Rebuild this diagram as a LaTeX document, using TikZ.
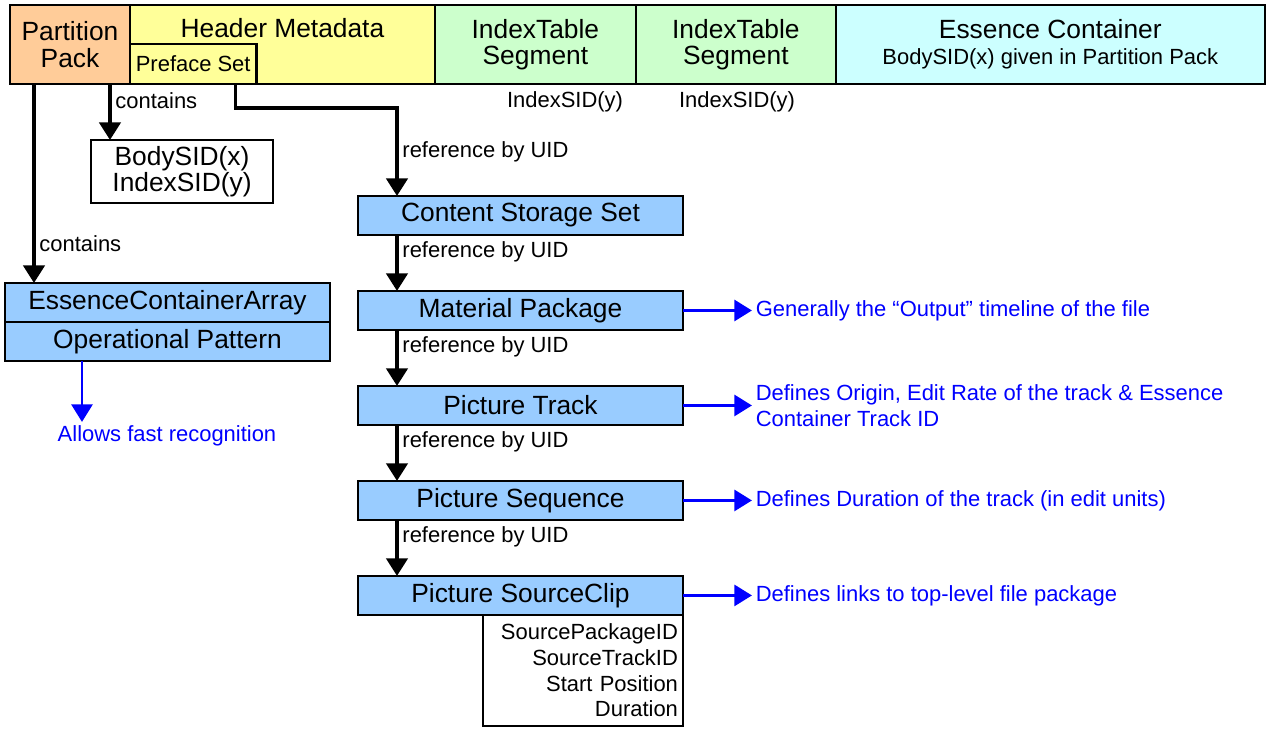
\documentclass[tikz,border=0pt]{standalone}
\usepackage{fontspec}
\setmainfont{Liberation Sans}
\usetikzlibrary{arrows.meta,positioning}
\definecolor{packorange}{RGB}{255,204,153}
\definecolor{metayellow}{RGB}{255,255,153}
\definecolor{indexgreen}{RGB}{204,255,204}
\definecolor{essencecyan}{RGB}{204,255,255}
\definecolor{setblue}{RGB}{153,204,255}
\newcommand{\bigtxt}{\fontsize{15}{15}\selectfont}
\newcommand{\smalltxt}{\fontsize{12.5}{14.6}\selectfont}
\tikzset{
    %Define standard arrow tip
    >={Triangle[length=10pt,width=12pt]},
    %Define style for boxes
    part/.style={
           rectangle,
           draw=black, line width=1.4pt,
           outer sep=0pt,
           minimum height=1.58cm,
           font=\bigtxt,
           align=center},
    setbox/.style={
           rectangle,
           draw=black, line width=1.4pt,
           outer sep=0pt,
           fill=setblue,
           minimum width=6.5cm,
           minimum height=0.78cm,
           font=\bigtxt},
    propbox/.style={
           rectangle,
           draw=black, line width=1.4pt,
           outer sep=0pt,
           fill=white,
           inner sep=0.1cm,
           text width=3.8cm,
           minimum height=2.22cm,
           font=\smalltxt,
           align=right},
    lbl/.style={
           font=\smalltxt,
           inner sep=2pt},
    note/.style={
           font=\smalltxt,
           text=blue,
           align=left,
           inner sep=2pt},
    % Define arrow style
    pil/.style={
           ->,
           line width=2.2pt},
    bpil/.style={
           ->,
           draw=blue, fill=blue,
           line width=1.5pt}
}
\begin{document}
\begin{tikzpicture}[x=0.02cm,y=-0.02cm]
\useasboundingbox (0,0) rectangle (1270,728);
% top row of the file
\node[part,fill=packorange,minimum width=2.4cm,anchor=north west](pp) at (10,5){Partition\\Pack};
\node[part,fill=metayellow,minimum width=6.1cm,right=0pt of pp](hm){};
\node[font=\bigtxt](hmt) at ([yshift=-0.46cm]hm.north){Header Metadata};
\node[part,fill=metayellow,minimum width=2.5cm,minimum height=0.8cm,font=\smalltxt,anchor=south west](pfs) at (hm.south west){Preface Set};
\node[part,fill=indexgreen,minimum width=4.02cm,right=0pt of hm](its1){IndexTable\\Segment};
\node[part,fill=indexgreen,minimum width=4cm,right=0pt of its1](its2){IndexTable\\Segment};
\node[part,fill=essencecyan,minimum width=8.58cm,right=0pt of its2](ec){Essence Container\\{\smalltxt BodySID(x) given in Partition Pack}};
\node[lbl](isid1) at (565,102){IndexSID(y)};
\node[lbl](isid2) at (737,102){IndexSID(y)};
% left side
\node[part,fill=white,minimum width=3.64cm,minimum height=1.26cm](sid) at (182,171.5){BodySID(x)\\IndexSID(y)};
\node[setbox,anchor=north west](eca) at (5,283){EssenceContainerArray};
\node[setbox,below=0pt of eca](op){Operational Pattern};
\node[note](fast) at (167,436){Allows fast recognition};
% chain of sets
\node[setbox,anchor=north west](cs) at (358,196){Content Storage Set};
\node[setbox,below=1.12cm of cs](mp){Material Package};
\node[setbox,below=1.12cm of mp](ptr){Picture Track};
\node[setbox,below=1.12cm of ptr](pseq){Picture Sequence};
\node[setbox,below=1.12cm of pseq](psc){Picture SourceClip};
\node[propbox,anchor=north east](prop) at (psc.south east){SourcePackageID\\SourceTrackID\\Start Position\\Duration};
\node[note,right=1.38cm of mp](n1){Generally the “Output” timeline of the file};
\node[note,right=1.38cm of ptr](n2){Defines Origin, Edit Rate of the track \& Essence\\Container Track ID};
\node[note,right=1.38cm of pseq](n3){Defines Duration of the track (in edit units)};
\node[note,right=1.38cm of psc](n4){Defines links to top-level file package};
% connectors
\coordinate (c1) at ([xshift=0.48cm]pp.south west);
\coordinate (c2) at ([xshift=-0.4cm]pp.south east);
\coordinate (c3) at ([xshift=-0.42cm]pfs.south east);
\coordinate (c4) at ([xshift=0.78cm]cs.north west);
\coordinate (c5) at ([xshift=1.54cm]op.south west);
\draw[pil] (c1) -- (c1 |- eca.north) node[lbl,pos=0.8,right](lc1){contains};
\draw[pil] (c2) -- (c2 |- sid.north) node[lbl,pos=0.3,right](lc2){contains};
\draw[pil] (c3) -- ++(0,24) -| (c4) node[lbl,pos=0.75,right](lr0){reference by UID};
\draw[pil] ([xshift=0.78cm]cs.south west) -- ([xshift=0.78cm]mp.north west) node[lbl,pos=0.3,right](lr1){reference by UID};
\draw[pil] ([xshift=0.78cm]mp.south west) -- ([xshift=0.78cm]ptr.north west) node[lbl,pos=0.3,right](lr2){reference by UID};
\draw[pil] ([xshift=0.78cm]ptr.south west) -- ([xshift=0.78cm]pseq.north west) node[lbl,pos=0.3,right](lr3){reference by UID};
\draw[pil] ([xshift=0.78cm]pseq.south west) -- ([xshift=0.78cm]psc.north west) node[lbl,pos=0.3,right](lr4){reference by UID};
\draw[bpil] (c5) -- (c5 |- fast.north);
\path[bpil]
	(mp) edge (n1)
	(ptr) edge (n2)
	(pseq) edge (n3)
	(psc) edge (n4);
\end{tikzpicture}
\end{document}
